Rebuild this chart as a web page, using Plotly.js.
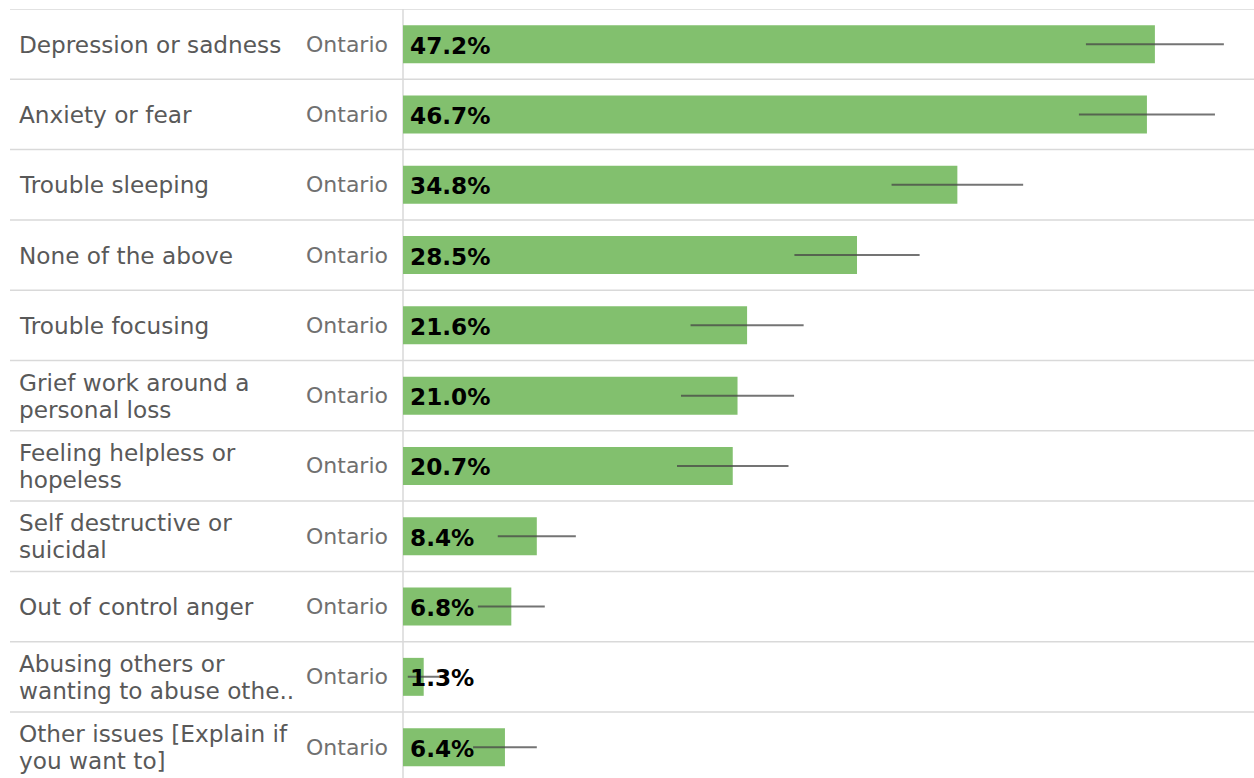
<!DOCTYPE html>
<html>
<head>
<meta charset="utf-8">
<script src="https://cdn.plot.ly/plotly-3.0.1.min.js"></script>
<style>html,body{margin:0;padding:0;background:#fff;overflow:hidden}</style>
</head>
<body>
<div id="chart" style="width:1254px;height:778px"></div>
<script>
const categories = [
  "Depression or sadness",
  "Anxiety or fear",
  "Trouble sleeping",
  "None of the above",
  "Trouble focusing",
  "Grief work around a\npersonal loss",
  "Feeling helpless or\nhopeless",
  "Self destructive or\nsuicidal",
  "Out of control anger",
  "Abusing others or\nwanting to abuse othe..",
  "Other issues [Explain if\nyou want to]"
];
const region = "Ontario";
const values = [47.2, 46.7, 34.8, 28.5, 21.6, 21.0, 20.7, 8.4, 6.8, 1.3, 6.4];
const errors = [4.33, 4.27, 4.13, 3.93, 3.55, 3.55, 3.5, 2.45, 2.1, 1.0, 2.0];

const W = 1254, H = 778;
const L = 403, T = 9;
const plotW = W - L;
const rowH = 70.3;
const plotH = H - T;
const yBottom = -0.5 + plotH / rowH;
const FONT = "DejaVu Sans, Verdana, sans-serif";

const idx = categories.map((_, i) => i);

const traces = [{
  type: 'bar',
  orientation: 'h',
  x: values,
  y: idx,
  width: 0.54,
  marker: {color: '#82c06e', line: {width: 0}},
  error_x: {type: 'data', array: errors, visible: true, thickness: 2, width: 0, color: 'rgba(70,70,70,0.75)'},
  hoverinfo: 'none',
  showlegend: false
}];

const annotations = [];
const shapes = [];
categories.forEach((c, i) => {
  const lines = c.split('\n');
  lines.forEach((ln, k) => {
    annotations.push({
      xref: 'paper', yref: 'y', x: (17 - L) / plotW, y: i,
      xanchor: 'left', yanchor: 'middle', showarrow: false,
      yshift: -((k - (lines.length - 1) / 2) * 27) ,
      text: ln, font: {family: FONT, size: 23.2, color: '#595959'}
    });
  });
  annotations.push({
    xref: 'paper', yref: 'y', x: (390 - L) / plotW, y: i,
    xanchor: 'right', yanchor: 'middle', showarrow: false,
    text: region, font: {family: FONT, size: 22, color: '#707070'}
  });
  annotations.push({
    xref: 'x', yref: 'y', x: 0, y: i, xanchor: 'left', yanchor: 'middle',
    xshift: 5, yshift: -1, showarrow: false,
    text: '<b>' + values[i].toFixed(1) + '%</b>',
    font: {family: FONT, size: 23.2, color: '#000000'}
  });
});
for (let i = 0; i <= categories.length; i++) {
  shapes.push({
    type: 'line', xref: 'paper', yref: 'y',
    x0: (10 - L) / plotW, x1: 1, y0: i - 0.5, y1: i - 0.5,
    line: {color: '#d9d9d9', width: 1.5}, layer: 'below'
  });
}
shapes.push({
  type: 'line', xref: 'paper', yref: 'paper', x0: 0, x1: 0, y0: 0, y1: 1,
  line: {color: '#d9d9d9', width: 1.5}, layer: 'below'
});

const layout = {
  width: W, height: H,
  margin: {l: L, r: 0, t: T, b: 0, pad: 0},
  paper_bgcolor: '#ffffff', plot_bgcolor: '#ffffff',
  xaxis: {range: [0, plotW / 15.93], showgrid: false, zeroline: false, showticklabels: false, ticks: '', fixedrange: true},
  yaxis: {range: [yBottom, -0.5], showgrid: false, zeroline: false, showticklabels: false, ticks: '', fixedrange: true},
  annotations: annotations,
  shapes: shapes,
  showlegend: false,
  bargap: 0.46
};

Plotly.newPlot('chart', traces, layout, {displayModeBar: false, staticPlot: true});
</script>
</body>
</html>
